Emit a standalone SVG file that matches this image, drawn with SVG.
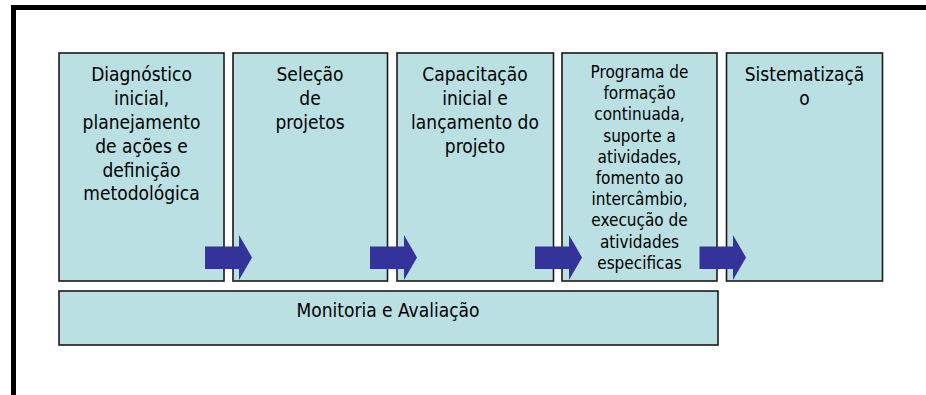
<svg xmlns="http://www.w3.org/2000/svg" width="926" height="395" viewBox="0 0 926 395">
<style>
.box{fill:#BAE0E3;stroke:#1a1a1a;stroke-width:1.6}
.t{font-family:"DejaVu Sans Condensed","DejaVu Sans",sans-serif;font-stretch:condensed;font-size:19px;fill:#000;text-anchor:middle}
.s{font-size:17px}
.arr{fill:#333399}
</style>
<rect width="926" height="395" fill="#fff"/>
<path d="M13.5 395 V7.5 H926" fill="none" stroke="#000" stroke-width="5"/>
<g id="n1">
<rect class="box" x="59" y="53" width="165" height="228"/>
<text class="t"><tspan x="141.5" y="81">Diagnóstico</tspan><tspan x="141.5" y="105">inicial,</tspan><tspan x="141.5" y="129">planejamento</tspan><tspan x="141.5" y="153">de ações e</tspan><tspan x="141.5" y="177">definição</tspan><tspan x="141.5" y="200">metodológica</tspan></text>
</g>
<g id="n2">
<rect class="box" x="233" y="53" width="154.5" height="228"/>
<text class="t"><tspan x="310" y="81">Seleção</tspan><tspan x="310" y="105">de</tspan><tspan x="310" y="129">projetos</tspan></text>
</g>
<g id="n3">
<rect class="box" x="397" y="53" width="156.5" height="228"/>
<text class="t"><tspan x="475" y="81">Capacitação</tspan><tspan x="475" y="105">inicial e</tspan><tspan x="475" y="129">lançamento do</tspan><tspan x="475" y="153">projeto</tspan></text>
</g>
<g id="n4">
<rect class="box" x="562" y="53" width="155" height="228"/>
<text class="t s"><tspan x="639.5" y="78">Programa de</tspan><tspan x="639.5" y="99.2">formação</tspan><tspan x="639.5" y="120.4">continuada,</tspan><tspan x="639.5" y="141.6">suporte a</tspan><tspan x="639.5" y="162.8">atividades,</tspan><tspan x="639.5" y="184">fomento ao</tspan><tspan x="639.5" y="205.2">intercâmbio,</tspan><tspan x="639.5" y="226.4">execução de</tspan><tspan x="639.5" y="247.6">atividades</tspan><tspan x="639.5" y="268.8">especificas</tspan></text>
</g>
<g id="n5">
<rect class="box" x="726.5" y="53" width="156" height="228"/>
<text class="t"><tspan x="804.5" y="81">Sistematizaçã</tspan><tspan x="804.5" y="105">o</tspan></text>
</g>
<g id="n6">
<rect class="box" x="59" y="291" width="659" height="54"/>
<text class="t" x="388" y="317">Monitoria e Avaliação</text>
</g>
<g id="connectors">
<path class="arr" d="M205 246.5 H239 V235 L252 257.5 L239 280 V269 H205 Z"/>
<path class="arr" d="M370 246.5 H404 V235 L417 257.5 L404 280 V269 H370 Z"/>
<path class="arr" d="M535 246.5 H569 V235 L582 257.5 L569 280 V269 H535 Z"/>
<path class="arr" d="M699.5 246.5 H733 V235 L746 257.5 L733 280 V269 H699.5 Z"/>
</g>
</svg>
